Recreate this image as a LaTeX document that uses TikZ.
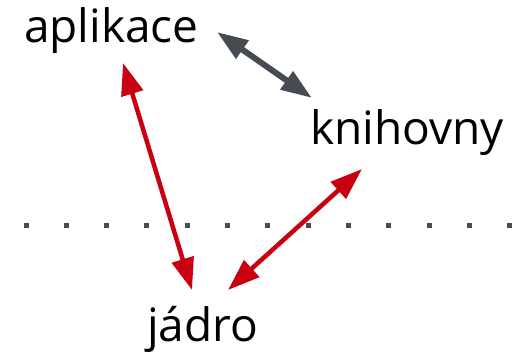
\documentclass[tikz,border=0pt]{standalone}
\usepackage{fontspec}
\setmainfont{Open Sans}
\usetikzlibrary{arrows.meta}
\definecolor{linkred}{RGB}{200,0,15}
\definecolor{slate}{RGB}{70,76,83}
\tikzset{
  label/.style={inner sep=0pt, anchor=base west, font=\fontsize{46}{50}\selectfont},
  redlink/.style={draw=linkred, line width=4.5pt,
    {Triangle[length=32pt,width=22pt]}-{Triangle[length=32pt,width=22pt]}},
  graylink/.style={draw=slate, line width=6pt,
    {Triangle[length=31pt,width=21pt]}-{Triangle[length=31pt,width=21pt]}},
  divider/.style={draw=slate, line width=5pt, dash pattern=on 5pt off 35.33pt}
}
\begin{document}
\begin{tikzpicture}[x=1pt,y=-1pt]
  \useasboundingbox (0,0) rectangle (517,352);
  % layer labels
  \node[label] (app) at (24,43) {aplikace};
  \node[label] (lib) at (310,145) {knihovny};
  \node[label] (core) at (147,342) {jádro};
  % arrow end points
  \coordinate (appR) at (217,32);
  \coordinate (appB) at (123,63);
  \coordinate (libL) at (312,98);
  \coordinate (libB) at (362,169);
  \coordinate (coreL) at (192,290);
  \coordinate (coreR) at (228,290);
  % boundary between user space and kernel
  \coordinate (divL) at (23.5,226);
  \coordinate (divR) at (515,226);
  \draw[divider] (divL) -- (divR);
  % connections
  \draw[graylink] (appR) -- (libL);
  \draw[redlink] (appB) -- (coreL);
  \draw[redlink] (libB) -- (coreR);
\end{tikzpicture}
\end{document}
